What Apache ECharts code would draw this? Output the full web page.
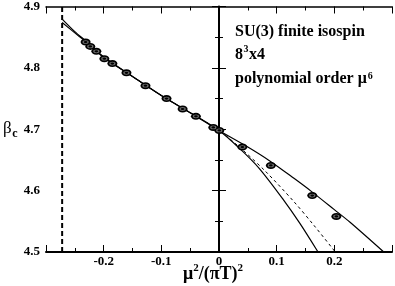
<!DOCTYPE html>
<html>
<head>
<meta charset="utf-8">
<script src="https://cdn.jsdelivr.net/npm/echarts@6/dist/echarts.min.js"></script>
<style>html,body{margin:0;padding:0;background:#fff}#c{width:395px;height:286px}</style>
</head>
<body>
<div id="c"></div>
<script>
// data points (mu^2/(pi T)^2, beta_c)
const dataX = [-0.2313,-0.2232,-0.2127,-0.1988,-0.1849,-0.1605,-0.1275,-0.091,-0.0631,-0.040,-0.0099,0.0005,0.0405,0.0899,0.1617,0.2035];
const dataY = [4.842,4.835,4.827,4.815,4.807,4.792,4.771,4.750,4.733,4.721,4.703,4.698,4.671,4.641,4.592,4.558];
// upper-left / steep-right error-band curve
const curveAX = [-0.272,-0.25,-0.23,-0.2,-0.15,-0.1,-0.05,0,0.0365,0.07,0.1118,0.14,0.1717];
const curveAY = [4.8795,4.859,4.843,4.818,4.786,4.755,4.727,4.698,4.668,4.636,4.585,4.547,4.5];
// lower-left / shallow-right error-band curve
const curveBX = [-0.272,-0.25,-0.23,-0.2,-0.15,-0.1,-0.05,0,0.05,0.0887,0.13,0.1612,0.2,0.2278,0.2857];
const curveBY = [4.874,4.857,4.842,4.817,4.786,4.755,4.727,4.698,4.671,4.648,4.620,4.598,4.569,4.548,4.5];
// central fit (dashed)
const fitX = [-0.23,-0.2,-0.15,-0.1,-0.05,0,0.0365,0.08,0.129,0.165,0.2017];
const fitY = [4.842,4.817,4.786,4.755,4.727,4.698,4.670,4.632,4.583,4.543,4.5];
const xTickLabels = {'-0.2':'-0.2','-0.1':'-0.1','0':'0','0.1':'0.1','0.2':'0.2'};
const yTickLabels = {'4.5':'4.5','4.6':'4.6','4.7':'4.7','4.8':'4.8','4.9':'4.9'};
const xCut = -0.272;

const zip = (a,b) => a.map((v,i)=>[v,b[i]]);
const F = 'Liberation Serif';
const chart = echarts.init(document.getElementById('c'), null, {renderer:'canvas'});

const ctx = document.createElement('canvas').getContext('2d');
const tw = (t, font) => { ctx.font = font; return ctx.measureText(t).width; };

const axCommon = {
  axisLine:{show:true,lineStyle:{color:'#000',width:2}},
  axisTick:{show:true,inside:true,length:7,lineStyle:{color:'#000',width:1}},
  minorTick:{show:true,splitNumber:2,length:4,lineStyle:{color:'#000',width:1}},
  splitLine:{show:false}
};
const fmtX = v => { const k = String(Math.round(v*10)/10); return xTickLabels[k] || ''; };
const fmtY = v => { const k = (Math.round(v*10)/10).toFixed(1); return yTickLabels[k] || ''; };

const mainFont = 'bold 16px "Liberation Serif"';
const supFont = 'bold 10px "Liberation Serif"';
const tx = 235;
function txt(x, y, text, font, align) {
  return {type:'text', x:x, y:y, style:{text:text, font:font, fill:'#000', verticalAlign:'middle', align:align||'left'}};
}
const titleFont = 'bold 18px "Liberation Serif"';
const tSupFont = 'bold 11px "Liberation Serif"';
// x axis title pieces: [text, font, y]
const tParts = [['μ',titleFont,274],['2',tSupFont,268],['/(πT)',titleFont,274],['2',tSupFont,268]];
const tTotal = tParts.reduce((s,p)=>s+tw(p[0],p[1]),0);
let cx = 213 - tTotal/2;
const titleEls = tParts.map(p => { const e = txt(cx, p[2], p[0], p[1]); cx += tw(p[0],p[1]); return e; });
const betaFont = '17px "Liberation Serif"';

chart.setOption({
  animation:false,
  backgroundColor:'#fff',
  grid:{left:46,right:3,top:4,bottom:34},
  xAxis:[
    Object.assign({type:'value',position:'bottom',min:-0.3,max:0.3,interval:0.1,
      axisLabel:{formatter:fmtX,fontFamily:F,fontWeight:'bold',fontSize:13,color:'#000',margin:3,showMinLabel:true,showMaxLabel:true}},axCommon),
    Object.assign({type:'value',position:'top',min:-0.3,max:0.3,interval:0.1,axisLabel:{show:false}},axCommon,{axisLine:{show:true,lineStyle:{color:'#000',width:1.5}}})
  ],
  yAxis:[
    Object.assign({type:'value',position:'left',min:4.5,max:4.9,interval:0.1,
      axisLabel:{formatter:fmtY,fontFamily:F,fontWeight:'bold',fontSize:13,color:'#000',margin:6}},axCommon),
    Object.assign({type:'value',position:'right',min:4.5,max:4.9,interval:0.1,axisLabel:{show:false}},axCommon,{axisLine:{show:true,lineStyle:{color:'#000',width:1.5}}})
  ],
  series:[
    {type:'line',data:[[0,4.5],[0,4.9]],showSymbol:false,lineStyle:{color:'#000',width:2},silent:true},
    {type:'line',data:[[xCut,4.5],[xCut,4.9]],showSymbol:false,lineStyle:{color:'#000',width:2,type:[5,3]},silent:true},
    {type:'line',data:zip(curveAX,curveAY),smooth:0.3,showSymbol:false,lineStyle:{color:'#000',width:1.2}},
    {type:'line',data:zip(curveBX,curveBY),smooth:0.3,showSymbol:false,lineStyle:{color:'#000',width:1.2}},
    {type:'line',data:zip(fitX,fitY),smooth:0.3,showSymbol:false,lineStyle:{color:'#000',width:1,type:[3,3]}},
    {type:'scatter',data:zip(dataX,dataY),symbol:'circle',symbolSize:[10,7],itemStyle:{color:'#000',opacity:1},z:5},
    {type:'scatter',data:zip(dataX,dataY),symbol:'circle',symbolSize:[5,3],itemStyle:{color:'transparent',borderColor:'#888',borderWidth:1},z:6}
  ],
  graphic:[
    txt(tx, 32, 'SU(3) finite isospin', mainFont),
    txt(tx, 55, '8', mainFont),
    txt(tx + tw('8',mainFont) + 0.5, 49.5, '3', supFont),
    txt(tx + tw('8',mainFont) + tw('3',supFont) + 1, 55, 'x4', mainFont),
    txt(tx, 79, 'polynomial order μ', mainFont),
    txt(tx + tw('polynomial order μ',mainFont) + 1, 76, '6', supFont),
    ...titleEls,
    txt(3, 129, 'β', betaFont),
    txt(3 + tw('β',betaFont) + 0.5, 133.5, 'c', 'bold 12px "Liberation Serif"')
  ]
});
</script>
</body>
</html>
